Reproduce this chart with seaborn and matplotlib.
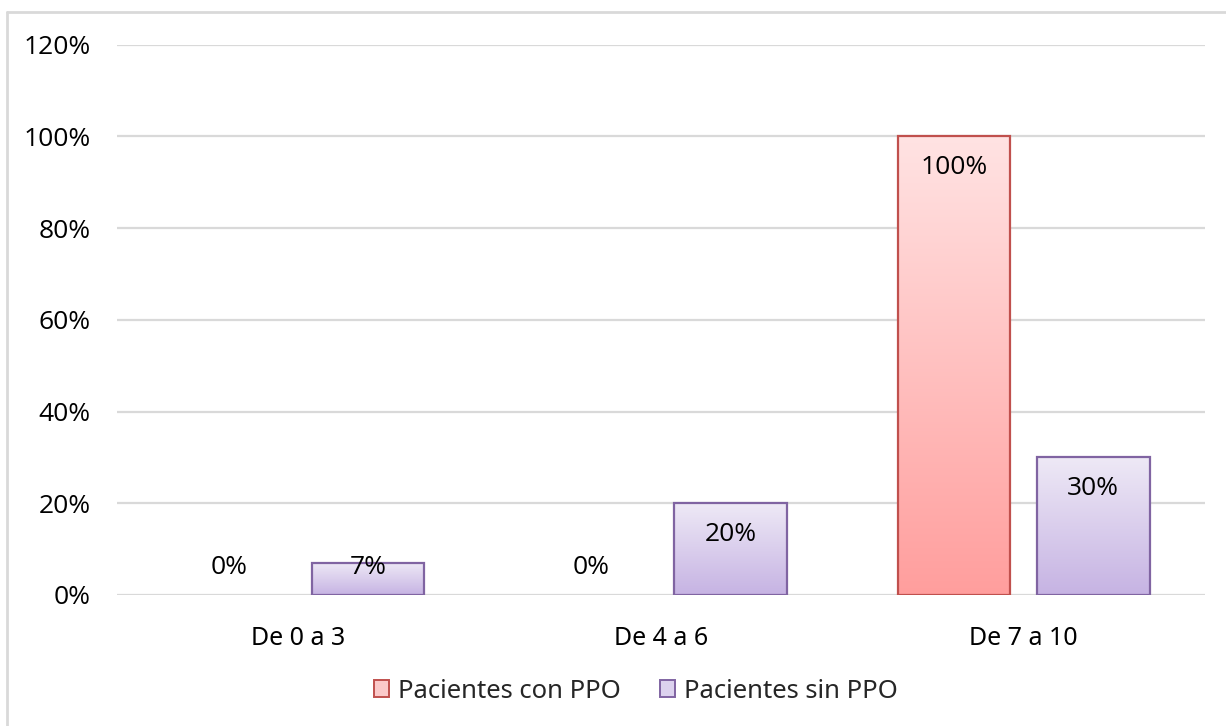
import numpy as np
import pandas as pd
import matplotlib
matplotlib.use("Agg")
import matplotlib.pyplot as plt
from matplotlib.patches import Patch
from matplotlib.lines import Line2D
from matplotlib.colors import LinearSegmentedColormap
import seaborn as sns

# Data
categories = ["De 0 a 3", "De 4 a 6", "De 7 a 10"]
series_names = ["Pacientes con PPO", "Pacientes sin PPO"]
con_ppo = [0.00, 0.00, 1.00]
sin_ppo = [0.07, 0.20, 0.30]
y_ticks = [0.0, 0.2, 0.4, 0.6, 0.8, 1.0, 1.2]

df = pd.DataFrame({
    "rango": categories * 2,
    "serie": [series_names[0]] * 3 + [series_names[1]] * 3,
    "valor": con_ppo + sin_ppo,
})

# Styling per series: (top colour, bottom colour, edge colour)
styles = {
    series_names[0]: ("#FFE3E3", "#FF9E9D", "#C0504D"),
    series_names[1]: ("#EEE9F6", "#C6B3E3", "#8064A2"),
}

sns.set_theme(style="white")
plt.rcParams["font.family"] = ["Open Sans", "DejaVu Sans"]

fig = plt.figure(figsize=(12.26, 7.26), dpi=100)
ax = fig.add_axes([117 / 1226, 1 - 595 / 726, 1088 / 1226, 550.5 / 726])

sns.barplot(data=df, x="rango", y="valor", hue="serie", order=categories,
            hue_order=series_names, width=0.768, gap=0.19, ax=ax,
            legend=False, saturation=1)

ax.set_ylim(0, 1.2)
ax.set_xlim(-0.5, 2.5)
ax.set_yticks(y_ticks)
ax.set_yticklabels([f"{int(round(t * 100))}%" for t in y_ticks])
ax.yaxis.grid(True, color="#D9D9D9", linewidth=1.6)
ax.set_axisbelow(True)
for s in ax.spines.values():
    s.set_visible(False)
ax.tick_params(axis="y", length=0, pad=19, labelsize=19, labelcolor="black")
ax.tick_params(axis="x", length=0, pad=22, labelsize=18, labelcolor="black")
for lbl in ax.get_xticklabels():
    lbl.set_fontfamily(["Noto Sans", "DejaVu Sans"])
ax.set_xlabel("")
ax.set_ylabel("")

# Vertical gradient fill for each bar
bars = [p for p in ax.patches]
order = [series_names[0]] * 3 + [series_names[1]] * 3
for patch, serie in zip(bars, order):
    top_c, bot_c, edge_c = styles[serie]
    x0, y0 = patch.get_x(), patch.get_y()
    w, h = patch.get_width(), patch.get_height()
    patch.set_facecolor("none")
    patch.set_edgecolor(edge_c)
    patch.set_linewidth(1.6)
    patch.set_zorder(3)
    if h <= 0:
        patch.set_visible(False)
        continue
    cmap = LinearSegmentedColormap.from_list("g", [bot_c, top_c])
    grad = np.linspace(0, 1, 256).reshape(-1, 1)
    im = ax.imshow(grad, cmap=cmap, aspect="auto", origin="lower",
                   extent=[x0, x0 + w, y0, y0 + h], zorder=2)
    im.set_clip_path(patch)

ax.set_xlim(-0.5, 2.5)
ax.set_ylim(0, 1.2)

# Value labels, placed inside the top of each bar
offset = 0.0676
min_pos = 0.059
for patch, val in zip(bars, con_ppo + sin_ppo):
    xc = patch.get_x() + patch.get_width() / 2
    yl = max(val - offset, min_pos)
    ax.text(xc, yl, f"{int(round(val * 100))}%", ha="center", va="center",
            fontsize=19, color="black", zorder=5)

# Legend
handles = [Patch(facecolor="#FBC9C9", edgecolor=styles[series_names[0]][2], linewidth=1.4),
           Patch(facecolor="#DCD2EE", edgecolor=styles[series_names[1]][2], linewidth=1.4)]
leg = fig.legend(handles, series_names, loc="center", bbox_to_anchor=(636 / 1226, 1 - 691 / 726),
                 ncol=2, frameon=False, fontsize=18.5, handlelength=0.6, handleheight=0.6,
                 handletextpad=0.35, columnspacing=1.5, borderaxespad=0)
for t in leg.get_texts():
    t.set_fontfamily(["Noto Sans", "DejaVu Sans"])

# Chart frame (top and left edges)
fig.add_artist(Line2D([7 / 1226, 7 / 1226], [0, 1 - 12 / 726], color="#D9D9D9",
                      linewidth=2, transform=fig.transFigure))
fig.add_artist(Line2D([7 / 1226, 1], [1 - 12 / 726, 1 - 12 / 726], color="#D9D9D9",
                      linewidth=2, transform=fig.transFigure))

fig.savefig("out.png", dpi=100, facecolor="white")
